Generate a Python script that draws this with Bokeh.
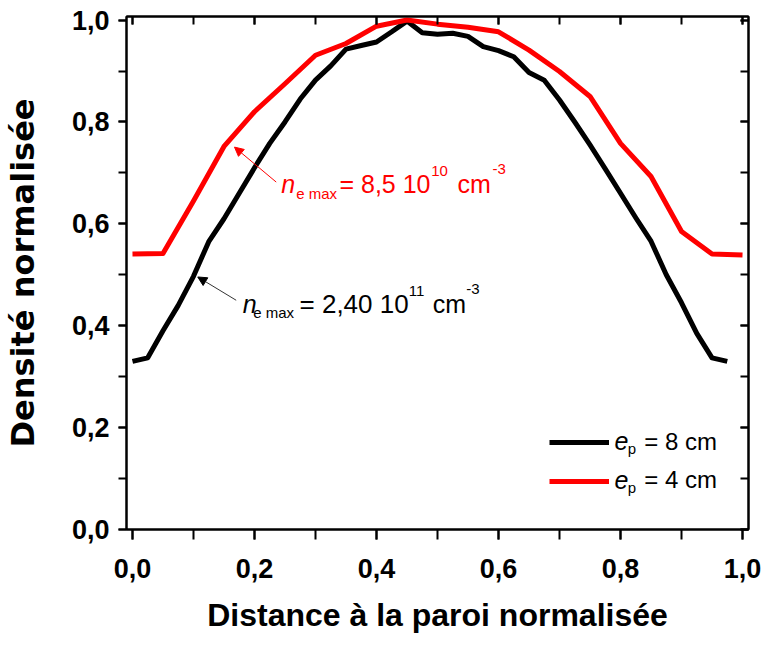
from bokeh.plotting import figure
from bokeh.models import (Range1d, FixedTicker, CustomJSTickFormatter, LinearAxis,
                          Label, Arrow, NormalHead, Legend, LegendItem)
from bokeh.embed import file_html
from bokeh.resources import INLINE

# ---- data ----
x_8cm = [0.0, 0.025, 0.05, 0.075, 0.1, 0.125, 0.15, 0.175, 0.2, 0.225, 0.25, 0.275,
         0.3, 0.325, 0.35, 0.375, 0.4, 0.425, 0.45, 0.475, 0.5, 0.525, 0.55, 0.575,
         0.6, 0.625, 0.65, 0.675, 0.7, 0.725, 0.75, 0.775, 0.8, 0.825, 0.85, 0.875,
         0.9, 0.925, 0.95, 0.975]
y_8cm = [0.33, 0.337, 0.39, 0.44, 0.497, 0.565, 0.61, 0.66, 0.71, 0.758, 0.80, 0.845,
         0.882, 0.91, 0.943, 0.95, 0.957, 0.977, 0.998, 0.975, 0.972, 0.974, 0.968, 0.948,
         0.94, 0.928, 0.897, 0.882, 0.843, 0.80, 0.755, 0.708, 0.66, 0.612, 0.566, 0.5,
         0.445, 0.385, 0.337, 0.33]

x_4cm = [0.0, 0.05, 0.1, 0.15, 0.2, 0.25, 0.3, 0.35, 0.4, 0.45, 0.5, 0.55, 0.6, 0.65,
         0.7, 0.75, 0.8, 0.85, 0.9, 0.95, 1.0]
y_4cm = [0.541, 0.542, 0.645, 0.752, 0.82, 0.875, 0.931, 0.954, 0.988, 1.0, 0.992, 0.986,
         0.977, 0.941, 0.899, 0.85, 0.758, 0.693, 0.585, 0.541, 0.539]

major_ticks = [0.0, 0.2, 0.4, 0.6, 0.8, 1.0]
minor_ticks = [0.0, 0.1, 0.2, 0.3, 0.4, 0.5, 0.6, 0.7, 0.8, 0.9, 1.0]

FONT = "Liberation Sans"

p = figure(frame_width=622, frame_height=513,
           min_border_left=119, min_border_right=14, min_border_top=16, min_border_bottom=109,
           x_range=Range1d(-0.0098, 1.0098), y_range=Range1d(0.0, 1.007),
           output_backend="svg", toolbar_location=None,
           x_axis_label="Distance à la paroi normalisée", y_axis_label="Densité normalisée")
p.grid.visible = False
p.outline_line_color = "black"
p.outline_line_width = 2
p.background_fill_color = "white"
p.border_fill_color = "white"

fmt = CustomJSTickFormatter(code="return tick.toFixed(1).replace('.', ',');")
blank = CustomJSTickFormatter(code="return '';")

for ax in (p.xaxis[0], p.yaxis[0]):
    ax.ticker = FixedTicker(ticks=major_ticks, minor_ticks=minor_ticks)
    ax.formatter = fmt
    ax.axis_line_width = 2
    ax.major_tick_line_width = 2
    ax.minor_tick_line_width = 2
    ax.major_tick_in = 0
    ax.minor_tick_in = 0
    ax.major_label_text_font = FONT
    ax.major_label_text_font_style = "bold"
    ax.major_label_text_font_size = "27px"
    ax.major_label_text_color = "black"
    ax.axis_label_text_font_style = "bold"
    ax.axis_label_text_color = "black"

p.xaxis[0].major_tick_out = 10
p.xaxis[0].minor_tick_out = 10
p.xaxis[0].major_label_standoff = 19
p.xaxis[0].axis_label_text_font = FONT
p.xaxis[0].axis_label_text_font_size = "32px"
p.xaxis[0].axis_label_standoff = 16

p.yaxis[0].major_tick_out = 8
p.yaxis[0].minor_tick_out = 8
p.yaxis[0].major_label_standoff = 9
p.yaxis[0].axis_label_text_font = "DejaVu Sans"
p.yaxis[0].axis_label_text_font_size = "32px"
p.yaxis[0].axis_label_standoff = 27

# mirrored axes (ticks inward, no labels)
for loc in ("above", "right"):
    ax = LinearAxis(ticker=FixedTicker(ticks=major_ticks, minor_ticks=minor_ticks),
                    formatter=blank)
    ax.axis_line_width = 2
    ax.major_tick_line_width = 2
    ax.minor_tick_line_width = 2
    ax.major_tick_out = 0
    ax.minor_tick_out = 0
    ax.major_tick_in = 8
    ax.minor_tick_in = 8
    ax.major_label_standoff = 0
    ax.major_label_text_font_size = "1px"
    p.add_layout(ax, loc)

# ---- curves ----
r8 = p.line(x_8cm, y_8cm, line_color="black", line_width=5, line_join="round")
r4 = p.line(x_4cm, y_4cm, line_color="#ff0000", line_width=5, line_join="round")

legend = Legend(items=[LegendItem(label=" ", renderers=[r8]),
                       LegendItem(label=" ", renderers=[r4])],
                location=(423, 38), glyph_width=60, glyph_height=20, label_height=20,
                label_width=1, spacing=19, padding=0, margin=0, label_standoff=0,
                border_line_color=None, background_fill_alpha=0,
                label_text_font_size="1px")
p.add_layout(legend)

DY = 0.019  # baseline correction


def lab(x, y, text, size, color="black", style="normal"):
    p.add_layout(Label(x=x, y=y + DY, text=text, text_font=FONT, text_font_size=f"{size}px",
                       text_color=color, text_font_style=style,
                       text_baseline="alphabetic", text_align="left"))


# legend texts
lab(0.790, 0.154, "e", 25, style="italic")
lab(0.812, 0.1396, "p", 15)
lab(0.839, 0.154, "= 8 cm", 24)
lab(0.790, 0.0788, "e", 25, style="italic")
lab(0.812, 0.0643, "p", 15)
lab(0.839, 0.0788, "= 4 cm", 24)

# red annotation
RED = "#ff0000"
lab(0.2438, 0.659, "n", 25, RED, "italic")
lab(0.2684, 0.6396, "e max", 15, RED)
lab(0.3393, 0.659, "= 8,5 10", 25, RED)
lab(0.4897, 0.684, "10", 15, RED)
lab(0.5328, 0.659, "cm", 25, RED)
lab(0.590, 0.689, "-3", 15, RED)
p.add_layout(Arrow(x_start=0.2356, y_start=0.682, x_end=0.1672, y_end=0.7506,
                   line_color=RED, line_width=1,
                   end=NormalHead(size=9, fill_color=RED, line_color=RED)))

# black annotation
lab(0.1808, 0.424, "n", 25, "black", "italic")
lab(0.198, 0.4075, "e max", 15)
lab(0.2738, 0.424, "= 2,40 10", 26)
lab(0.453, 0.45, "11", 15)
lab(0.4923, 0.424, "cm", 25)
lab(0.547, 0.454, "-3", 15)
p.add_layout(Arrow(x_start=0.170, y_start=0.45, x_end=0.107, y_end=0.4957,
                   line_color="#333333", line_width=1,
                   end=NormalHead(size=9, fill_color="black", line_color="black")))

open("out.html", "w").write(file_html(p, INLINE))
